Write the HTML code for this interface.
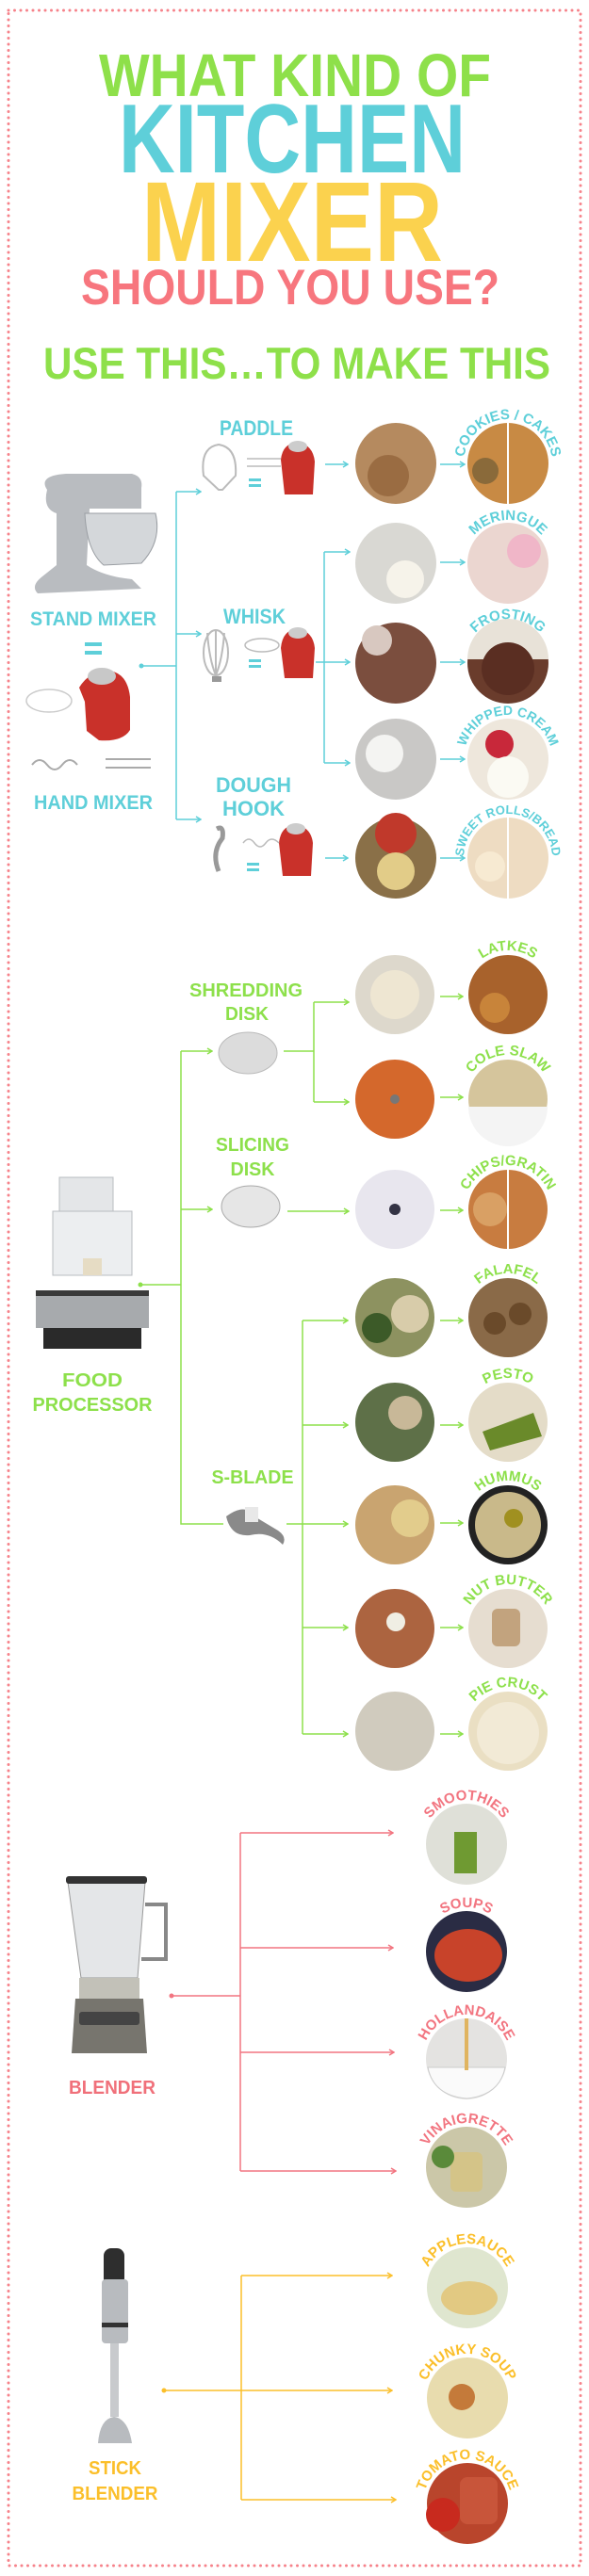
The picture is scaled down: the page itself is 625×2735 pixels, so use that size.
<!DOCTYPE html>
<html><head><meta charset="utf-8"><style>
html,body{margin:0;padding:0;background:#fff}
svg{display:block}
text{font-family:"Liberation Sans",sans-serif;font-weight:bold}
</style></head><body>
<svg width="625" height="2735" viewBox="0 0 625 2735" xmlns="http://www.w3.org/2000/svg">
<defs>
<marker id="ac" markerWidth="8" markerHeight="8" refX="7" refY="4" orient="auto" markerUnits="userSpaceOnUse"><polyline points="2,1 7,4 2,7" fill="none" stroke="#5ecfd9" stroke-width="1.5"/></marker>
<marker id="ag" markerWidth="8" markerHeight="8" refX="7" refY="4" orient="auto" markerUnits="userSpaceOnUse"><polyline points="2,1 7,4 2,7" fill="none" stroke="#8de04b" stroke-width="1.5"/></marker>
<marker id="ap" markerWidth="8" markerHeight="8" refX="7" refY="4" orient="auto" markerUnits="userSpaceOnUse"><polyline points="2,1 7,4 2,7" fill="none" stroke="#f27580" stroke-width="1.5"/></marker>
<marker id="ay" markerWidth="8" markerHeight="8" refX="7" refY="4" orient="auto" markerUnits="userSpaceOnUse"><polyline points="2,1 7,4 2,7" fill="none" stroke="#fbbf2a" stroke-width="1.5"/></marker>
<path id="p1" d="M492 492 A47 47 0 0 1 586 492"/>
<path id="p2" d="M492 599 A47 47 0 0 1 586 599"/>
<path id="p3" d="M492 704 A47 47 0 0 1 586 704"/>
<path id="p4" d="M492 806 A47 47 0 0 1 586 806"/>
<path id="p5" d="M492 911 A47 47 0 0 1 586 911"/>
<path id="q1" d="M492 1056 A47 47 0 0 1 586 1056"/>
<path id="q2" d="M492 1167 A47 47 0 0 1 586 1167"/>
<path id="q3" d="M492 1284 A47 47 0 0 1 586 1284"/>
<path id="q4" d="M492 1399 A47 47 0 0 1 586 1399"/>
<path id="q5" d="M492 1510 A47 47 0 0 1 586 1510"/>
<path id="q6" d="M492 1619 A47 47 0 0 1 586 1619"/>
<path id="q7" d="M492 1729 A47 47 0 0 1 586 1729"/>
<path id="q8" d="M492 1838 A47 47 0 0 1 586 1838"/>
<path id="r1" d="M448 1958 A47 47 0 0 1 542 1958"/>
<path id="r2" d="M448 2072 A47 47 0 0 1 542 2072"/>
<path id="r3" d="M448 2186 A47 47 0 0 1 542 2186"/>
<path id="r4" d="M448 2301 A47 47 0 0 1 542 2301"/>
<path id="s1" d="M449 2429 A47 47 0 0 1 543 2429"/>
<path id="s2" d="M449 2546 A47 47 0 0 1 543 2546"/>
<path id="s3" d="M449 2658 A47 47 0 0 1 543 2658"/>
</defs>

<rect x="9" y="11" width="607" height="2713" fill="none" stroke="#f6828a" stroke-width="3" stroke-dasharray="0 6.5" stroke-linecap="round"/>

<text x="313" y="102" font-size="64" fill="#8ee04a" text-anchor="middle" textLength="416" lengthAdjust="spacingAndGlyphs">WHAT KIND OF</text>
<text x="310" y="183" font-size="104" fill="#5ecfd9" text-anchor="middle" textLength="368" lengthAdjust="spacingAndGlyphs">KITCHEN</text>
<text x="310" y="277" font-size="121" fill="#fbd24e" text-anchor="middle" textLength="320" lengthAdjust="spacingAndGlyphs">MIXER</text>
<text x="308" y="323" font-size="53" fill="#f7767e" text-anchor="middle" textLength="444" lengthAdjust="spacingAndGlyphs">SHOULD YOU USE?</text>
<text x="315" y="402" font-size="47" fill="#8ee04a" text-anchor="middle" textLength="538" lengthAdjust="spacingAndGlyphs">USE THIS…TO MAKE THIS</text>

<g>
<path d="M50 520 Q40 505 70 503 L140 503 Q152 506 150 518 L150 540 L95 540 L92 600 Q110 612 140 615 L150 625 L40 630 Q32 622 45 612 L60 600 L60 545 Q45 540 50 520Z" fill="#b9bcc0"/>
<path d="M90 545 L165 545 Q172 575 150 598 L110 600 Q92 585 90 545Z" fill="#d4d7da" stroke="#9a9ea3"/>
<text x="99" y="664" font-size="21" fill="#5ecfd9" text-anchor="middle" textLength="134" lengthAdjust="spacingAndGlyphs">STAND MIXER</text>
<rect x="90" y="682" width="18" height="4" fill="#5ecfd9"/><rect x="90" y="691" width="18" height="4" fill="#5ecfd9"/>
<ellipse cx="52" cy="744" rx="24" ry="12" fill="none" stroke="#ccc" stroke-width="1.5"/>
<path d="M84 730 Q95 712 115 712 Q135 714 138 740 L138 775 Q130 788 105 786 L92 776 L90 745Z" fill="#c9312a"/>
<ellipse cx="108" cy="718" rx="15" ry="9" fill="#c8c8c8"/>
<path d="M34 812 q8 -10 16 0 q8 10 16 0 q8 -10 16 0 M112 806 h48 M112 815 h48" stroke="#aaa" stroke-width="2" fill="none"/>
<text x="99" y="859" font-size="21" fill="#5ecfd9" text-anchor="middle" textLength="126" lengthAdjust="spacingAndGlyphs">HAND MIXER</text>

<circle cx="150" cy="707" r="2.5" fill="#5ecfd9"/>
<g stroke="#5ecfd9" stroke-width="1.5" fill="none">
<path d="M150 707 H187 M187 522 V870"/>
<path d="M187 522 H213" marker-end="url(#ac)"/>
<path d="M187 673 H213" marker-end="url(#ac)"/>
<path d="M187 870 H213" marker-end="url(#ac)"/>
<path d="M345 493 H369" marker-end="url(#ac)"/>
<path d="M467 493 H493" marker-end="url(#ac)"/>
<path d="M335 703 H344 M344 586 V810"/>
<path d="M344 586 H371" marker-end="url(#ac)"/>
<path d="M344 703 H371" marker-end="url(#ac)"/>
<path d="M344 810 H371" marker-end="url(#ac)"/>
<path d="M467 597 H493" marker-end="url(#ac)"/>
<path d="M467 703 H493" marker-end="url(#ac)"/>
<path d="M467 806 H493" marker-end="url(#ac)"/>
<path d="M345 911 H369" marker-end="url(#ac)"/>
<path d="M467 911 H493" marker-end="url(#ac)"/>
</g>

<text x="272" y="462" font-size="22" fill="#5ecfd9" text-anchor="middle" textLength="78" lengthAdjust="spacingAndGlyphs">PADDLE</text>
<text x="270" y="662" font-size="22" fill="#5ecfd9" text-anchor="middle" textLength="66" lengthAdjust="spacingAndGlyphs">WHISK</text>
<text x="269" y="841" font-size="22" fill="#5ecfd9" text-anchor="middle" textLength="80" lengthAdjust="spacingAndGlyphs">DOUGH</text>
<text x="269" y="866" font-size="22" fill="#5ecfd9" text-anchor="middle" textLength="66" lengthAdjust="spacingAndGlyphs">HOOK</text>

<g fill="none" stroke="#bbb" stroke-width="2">
<path d="M216 505 Q212 475 232 472 Q252 475 250 505 L236 520 L232 520Z"/>
<ellipse cx="229" cy="693" rx="13" ry="24"/><path d="M229 669 V717 M220 672 Q222 700 229 717 M238 672 Q236 700 229 717"/>
<path d="M230 880 Q238 876 236 890 Q224 905 232 925" stroke="#999" stroke-width="5"/>
</g>
<rect x="225" y="718" width="10" height="6" fill="#999"/>
<g fill="#5ecfd9"><rect x="264" y="508" width="13" height="3"/><rect x="264" y="514" width="13" height="3"/>
<rect x="264" y="700" width="13" height="3"/><rect x="264" y="706" width="13" height="3"/>
<rect x="262" y="916" width="13" height="3"/><rect x="262" y="922" width="13" height="3"/></g>
<g fill="#c9312a">
<path d="M298 488 Q300 470 316 470 Q332 472 334 490 L332 525 L302 525Z"/>
<path d="M298 688 Q300 668 316 668 Q332 670 334 688 L332 720 L302 720Z"/>
<path d="M296 895 Q298 876 314 876 Q330 878 332 895 L330 930 L300 930Z"/>
</g>
<g fill="#ccc"><ellipse cx="316" cy="474" rx="10" ry="6"/><ellipse cx="316" cy="672" rx="10" ry="6"/><ellipse cx="314" cy="880" rx="10" ry="6"/></g>
<g stroke="#bbb" stroke-width="1.5" fill="none"><path d="M262 487 H298 M262 495 H298"/><ellipse cx="278" cy="685" rx="18" ry="7"/><path d="M258 895 q6 -8 12 0 q6 8 12 0 q6 -8 14 0"/></g>

<circle cx="420" cy="492" r="43" fill="#b58a5f"/><circle cx="412" cy="505" r="22" fill="#9a6c42"/>
<circle cx="539" cy="492" r="43" fill="#c88a44"/><path d="M539 449 V535" stroke="#fff" stroke-width="2"/><circle cx="515" cy="500" r="14" fill="#8a6a3a"/>
<circle cx="420" cy="598" r="43" fill="#d9d8d3"/><circle cx="430" cy="615" r="20" fill="#f6f3ea"/>
<circle cx="539" cy="598" r="43" fill="#ebd6d0"/><circle cx="556" cy="585" r="18" fill="#f0b6c8"/>
<circle cx="420" cy="704" r="43" fill="#7b4e3e"/><circle cx="400" cy="680" r="16" fill="#d8c8c0"/>
<circle cx="539" cy="704" r="43" fill="#6a3c2c"/><path d="M496 700 A43 43 0 0 1 582 700" fill="#e8e2d8"/><circle cx="539" cy="710" r="28" fill="#5a2e22"/>
<circle cx="420" cy="806" r="43" fill="#c9c8c6"/><circle cx="408" cy="800" r="20" fill="#f4f4f2"/>
<circle cx="539" cy="806" r="43" fill="#eee7dc"/><circle cx="530" cy="790" r="15" fill="#c8283a"/><circle cx="539" cy="825" r="22" fill="#fbfaf3"/>
<circle cx="420" cy="911" r="43" fill="#8a7048"/><circle cx="420" cy="885" r="22" fill="#c0392b"/><circle cx="420" cy="925" r="20" fill="#e2cc88"/>
<circle cx="539" cy="911" r="43" fill="#eedcc2"/><path d="M539 868 V954" stroke="#fff" stroke-width="2"/><circle cx="520" cy="920" r="16" fill="#f7ead2"/>

<g font-size="15" fill="#5ecfd9">
<text><textPath href="#p1" startOffset="50%" text-anchor="middle">COOKIES / CAKES</textPath></text>
<text><textPath href="#p2" startOffset="50%" text-anchor="middle">MERINGUE</textPath></text>
<text><textPath href="#p3" startOffset="50%" text-anchor="middle">FROSTING</textPath></text>
<text font-size="14"><textPath href="#p4" startOffset="50%" text-anchor="middle">WHIPPED CREAM</textPath></text>
<text font-size="13"><textPath href="#p5" startOffset="50%" text-anchor="middle">SWEET ROLLS/BREAD</textPath></text>
</g>
</g>

<g>
<rect x="63" y="1250" width="57" height="36" fill="#e4e6e8" stroke="#b9bcc0"/>
<rect x="56" y="1286" width="84" height="68" fill="#eceef0" stroke="#b9bcc0"/>
<rect x="88" y="1336" width="20" height="18" fill="#e6dcc4"/>
<rect x="38" y="1370" width="120" height="40" fill="#a7aaad"/>
<rect x="38" y="1370" width="120" height="6" fill="#3a3a3a"/>
<rect x="46" y="1410" width="104" height="22" fill="#2a2a2a"/>
<text x="98" y="1472" font-size="20" fill="#8de04b" text-anchor="middle" textLength="64" lengthAdjust="spacingAndGlyphs">FOOD</text>
<text x="98" y="1498" font-size="20" fill="#8de04b" text-anchor="middle" textLength="127" lengthAdjust="spacingAndGlyphs">PROCESSOR</text>

<circle cx="149" cy="1364" r="2.5" fill="#8de04b"/>
<g stroke="#8de04b" stroke-width="1.5" fill="none">
<path d="M149 1364 H192 M192 1116 V1618 H237"/>
<path d="M192 1116 H225" marker-end="url(#ag)"/>
<path d="M192 1284 H225" marker-end="url(#ag)"/>
<path d="M301 1116 H333 M333 1064 V1170"/>
<path d="M333 1064 H370" marker-end="url(#ag)"/>
<path d="M333 1170 H370" marker-end="url(#ag)"/>
<path d="M305 1286 H370" marker-end="url(#ag)"/>
<path d="M304 1618 H321 M321 1402 V1841"/>
<path d="M321 1402 H369" marker-end="url(#ag)"/>
<path d="M321 1513 H369" marker-end="url(#ag)"/>
<path d="M321 1618 H369" marker-end="url(#ag)"/>
<path d="M321 1728 H369" marker-end="url(#ag)"/>
<path d="M321 1841 H369" marker-end="url(#ag)"/>
<path d="M467 1058 H491" marker-end="url(#ag)"/>
<path d="M467 1165 H491" marker-end="url(#ag)"/>
<path d="M467 1285 H491" marker-end="url(#ag)"/>
<path d="M467 1402 H491" marker-end="url(#ag)"/>
<path d="M467 1513 H491" marker-end="url(#ag)"/>
<path d="M467 1617 H491" marker-end="url(#ag)"/>
<path d="M467 1728 H491" marker-end="url(#ag)"/>
<path d="M467 1841 H491" marker-end="url(#ag)"/>
</g>

<text x="261" y="1058" font-size="20" fill="#8de04b" text-anchor="middle" textLength="120" lengthAdjust="spacingAndGlyphs">SHREDDING</text>
<text x="262" y="1083" font-size="20" fill="#8de04b" text-anchor="middle" textLength="46" lengthAdjust="spacingAndGlyphs">DISK</text>
<text x="268" y="1222" font-size="20" fill="#8de04b" text-anchor="middle" textLength="78" lengthAdjust="spacingAndGlyphs">SLICING</text>
<text x="268" y="1248" font-size="20" fill="#8de04b" text-anchor="middle" textLength="47" lengthAdjust="spacingAndGlyphs">DISK</text>
<text x="268" y="1575" font-size="20" fill="#8de04b" text-anchor="middle" textLength="87" lengthAdjust="spacingAndGlyphs">S-BLADE</text>

<ellipse cx="263" cy="1118" rx="31" ry="22" fill="#dcdcdc" stroke="#bbb"/>
<ellipse cx="266" cy="1281" rx="31" ry="22" fill="#e6e6e6" stroke="#aaa"/>
<path d="M240 1610 Q260 1595 270 1610 L295 1625 Q305 1632 300 1640 Q285 1625 265 1630 Q245 1632 240 1610Z" fill="#8a8a8a"/>
<rect x="260" y="1600" width="14" height="16" fill="#e8e8e8"/>

<circle cx="419" cy="1056" r="42" fill="#ddd8cc"/><circle cx="419" cy="1056" r="26" fill="#eee6d2"/>
<circle cx="539" cy="1056" r="42" fill="#a8622c"/><circle cx="525" cy="1070" r="16" fill="#c8843a"/>
<circle cx="419" cy="1167" r="42" fill="#d4682c"/><circle cx="419" cy="1167" r="5" fill="#777"/>
<circle cx="539" cy="1167" r="42" fill="#d5c59c"/><path d="M497 1175 A42 42 0 0 0 581 1175Z" fill="#f4f4f4"/>
<circle cx="419" cy="1284" r="42" fill="#e8e6ee"/><circle cx="419" cy="1284" r="6" fill="#334"/>
<circle cx="539" cy="1284" r="42" fill="#c87c40"/><path d="M539 1242 V1326" stroke="#fff" stroke-width="2"/><circle cx="520" cy="1284" r="18" fill="#d9a064"/>
<circle cx="419" cy="1399" r="42" fill="#8d9260"/><circle cx="435" cy="1395" r="20" fill="#d8ccaa"/><circle cx="400" cy="1410" r="16" fill="#3c5a28"/>
<circle cx="539" cy="1399" r="42" fill="#8a6a48"/><circle cx="525" cy="1405" r="12" fill="#6a4a2a"/><circle cx="552" cy="1395" r="12" fill="#6a4a2a"/>
<circle cx="419" cy="1510" r="42" fill="#5e7048"/><circle cx="430" cy="1500" r="18" fill="#c8b898"/>
<circle cx="539" cy="1510" r="42" fill="#e4dcc8"/><path d="M512 1520 L566 1500 L575 1525 L520 1540Z" fill="#6a8a2a"/>
<circle cx="419" cy="1619" r="42" fill="#c9a470"/><circle cx="435" cy="1612" r="20" fill="#e2cc8c"/>
<circle cx="539" cy="1619" r="42" fill="#222"/><circle cx="539" cy="1619" r="35" fill="#c9b98a"/><circle cx="545" cy="1612" r="10" fill="#a09020"/>
<circle cx="419" cy="1729" r="42" fill="#ac6440"/><circle cx="420" cy="1722" r="10" fill="#f0eee4"/>
<circle cx="539" cy="1729" r="42" fill="#e6ddd0"/><rect x="522" y="1708" width="30" height="40" rx="6" fill="#c2a37e"/>
<circle cx="419" cy="1838" r="42" fill="#d0cbbe"/>
<circle cx="539" cy="1838" r="42" fill="#eadfc3"/><circle cx="539" cy="1840" r="33" fill="#f2ead6"/>

<g font-size="15" fill="#8de04b">
<text><textPath href="#q1" startOffset="50%" text-anchor="middle">LATKES</textPath></text>
<text><textPath href="#q2" startOffset="50%" text-anchor="middle">COLE SLAW</textPath></text>
<text><textPath href="#q3" startOffset="50%" text-anchor="middle">CHIPS/GRATIN</textPath></text>
<text><textPath href="#q4" startOffset="50%" text-anchor="middle">FALAFEL</textPath></text>
<text><textPath href="#q5" startOffset="50%" text-anchor="middle">PESTO</textPath></text>
<text><textPath href="#q6" startOffset="50%" text-anchor="middle">HUMMUS</textPath></text>
<text><textPath href="#q7" startOffset="50%" text-anchor="middle">NUT BUTTER</textPath></text>
<text><textPath href="#q8" startOffset="50%" text-anchor="middle">PIE CRUST</textPath></text>
</g>
</g>

<g>
<path d="M72 1998 L154 1998 L146 2100 L86 2100Z" fill="#e4e6e8" stroke="#999"/>
<rect x="70" y="1992" width="86" height="8" rx="3" fill="#333"/>
<path d="M154 2022 H176 V2080 H150" fill="none" stroke="#888" stroke-width="4"/>
<rect x="84" y="2100" width="64" height="22" fill="#c2c1b8"/>
<path d="M80 2122 H152 L156 2180 H76Z" fill="#77756e"/>
<rect x="84" y="2136" width="64" height="14" rx="3" fill="#444"/>
<text x="119" y="2223" font-size="20" fill="#f0707a" text-anchor="middle" textLength="92" lengthAdjust="spacingAndGlyphs">BLENDER</text>

<circle cx="182" cy="2119" r="2.5" fill="#f27580"/>
<g stroke="#f27580" stroke-width="1.5" fill="none">
<path d="M182 2119 H255 M255 1946 V2305"/>
<path d="M255 1946 H417" marker-end="url(#ap)"/>
<path d="M255 2068 H417" marker-end="url(#ap)"/>
<path d="M255 2179 H418" marker-end="url(#ap)"/>
<path d="M255 2305 H420" marker-end="url(#ap)"/>
</g>
<circle cx="495" cy="1958" r="43" fill="#dfe0d8"/><rect x="482" y="1945" width="24" height="44" fill="#6f9a32"/>
<circle cx="495" cy="2072" r="43" fill="#2a2c44"/><ellipse cx="497" cy="2076" rx="36" ry="28" fill="#c8432a"/>
<circle cx="495" cy="2186" r="43" fill="#e4e3e1"/><path d="M454 2195 H536 Q530 2225 495 2228 Q460 2225 454 2195Z" fill="#fafafa" stroke="#ccc"/><rect x="493" y="2143" width="4" height="55" fill="#e0b460"/>
<circle cx="495" cy="2301" r="43" fill="#cbc7a8"/><rect x="478" y="2285" width="34" height="42" rx="6" fill="#d4c488"/><circle cx="470" cy="2290" r="12" fill="#5a8a3a"/>
<g font-size="15" fill="#f27580">
<text><textPath href="#r1" startOffset="50%" text-anchor="middle">SMOOTHIES</textPath></text>
<text><textPath href="#r2" startOffset="50%" text-anchor="middle">SOUPS</textPath></text>
<text><textPath href="#r3" startOffset="50%" text-anchor="middle">HOLLANDAISE</textPath></text>
<text><textPath href="#r4" startOffset="50%" text-anchor="middle">VINAIGRETTE</textPath></text>
</g>
</g>

<g>
<rect x="110" y="2387" width="22" height="40" rx="8" fill="#2e2e2e"/>
<rect x="108" y="2420" width="28" height="68" rx="4" fill="#b8bbbf"/>
<rect x="108" y="2466" width="28" height="5" fill="#333"/>
<rect x="117" y="2488" width="9" height="78" fill="#c8cacd"/>
<path d="M104 2594 Q106 2568 121 2566 Q136 2568 140 2594 Z" fill="#b8bbbf"/>
<text x="122" y="2627" font-size="20" fill="#fbbf2a" text-anchor="middle" textLength="56" lengthAdjust="spacingAndGlyphs">STICK</text>
<text x="122" y="2654" font-size="20" fill="#fbbf2a" text-anchor="middle" textLength="91" lengthAdjust="spacingAndGlyphs">BLENDER</text>

<circle cx="174" cy="2538" r="2.5" fill="#fbbf2a"/>
<g stroke="#fbbf2a" stroke-width="1.5" fill="none">
<path d="M174 2538 H256 M256 2416 V2654"/>
<path d="M256 2416 H416" marker-end="url(#ay)"/>
<path d="M256 2538 H416" marker-end="url(#ay)"/>
<path d="M256 2654 H420" marker-end="url(#ay)"/>
</g>
<circle cx="496" cy="2429" r="43" fill="#dfe6cf"/><ellipse cx="498" cy="2440" rx="30" ry="18" fill="#e2c982"/>
<circle cx="496" cy="2546" r="43" fill="#e8dcae"/><circle cx="490" cy="2545" r="14" fill="#c47a3a"/>
<circle cx="496" cy="2658" r="43" fill="#b9452c"/><rect x="488" y="2630" width="40" height="50" rx="8" fill="#c8553a"/><circle cx="470" cy="2670" r="18" fill="#c82a1e"/>
<g font-size="15" fill="#fbbf2a">
<text><textPath href="#s1" startOffset="50%" text-anchor="middle">APPLESAUCE</textPath></text>
<text><textPath href="#s2" startOffset="50%" text-anchor="middle">CHUNKY SOUP</textPath></text>
<text><textPath href="#s3" startOffset="50%" text-anchor="middle">TOMATO SAUCE</textPath></text>
</g>
</g>
</svg>
</body></html>
